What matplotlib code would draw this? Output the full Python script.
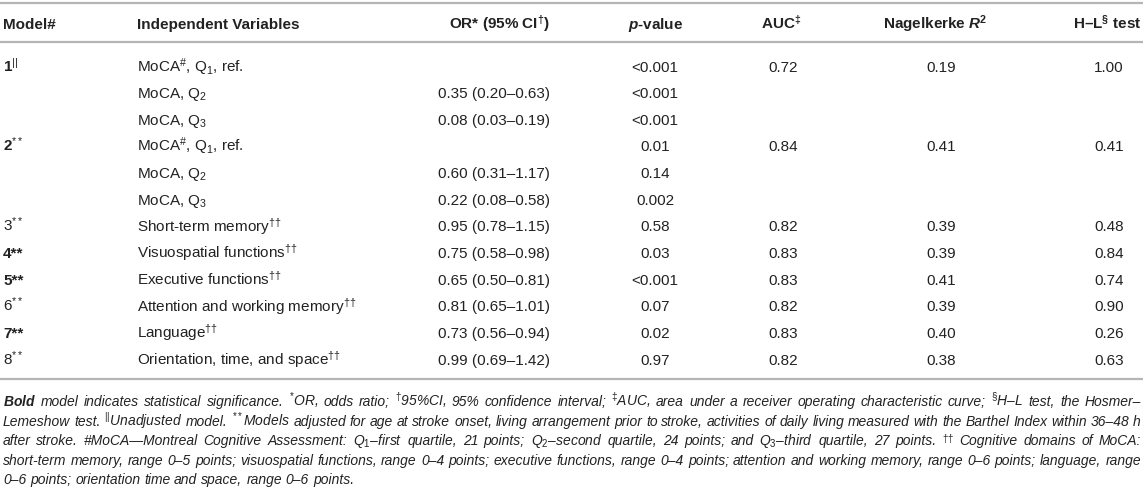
import matplotlib
matplotlib.use("Agg")
import matplotlib.pyplot as plt

plt.rcParams['font.family'] = ['Liberation Sans', 'DejaVu Sans']
plt.rcParams['mathtext.fontset'] = 'custom'
plt.rcParams['mathtext.rm'] = 'Liberation Sans'
plt.rcParams['mathtext.it'] = 'Liberation Sans:italic'
plt.rcParams['mathtext.bf'] = 'Liberation Sans:bold'
plt.rcParams['mathtext.bfit'] = 'Liberation Sans:italic:bold'
plt.rcParams['mathtext.sf'] = 'Liberation Sans'

# table content
headers = ["Model#", "Independent Variables", r"OR* (95% CI$^{\mathbf{†}}$)",
           r"$\mathbfit{p}$-value", r"AUC$^{\mathbf{‡}}$",
           r"Nagelkerke $\mathbfit{R}^{\mathbf{2}}$", r"H–L$^{\mathbf{§}}$ test"]
models = [r"$\mathbf{1}^{||}$", "", "", r"$\mathbf{2}^{**}$", "", "",
          r"3$^{**}$", "4**", "5**", r"6$^{**}$", "7**", r"8$^{**}$"]
model_bold = [False, False, False, False, False, False,
              False, True, True, False, True, False]
variables = [r"MoCA$^{\#}$, Q$_{1}$, ref.", r"MoCA, Q$_{2}$", r"MoCA, Q$_{3}$",
             r"MoCA$^{\#}$, Q$_{1}$, ref.", r"MoCA, Q$_{2}$", r"MoCA, Q$_{3}$",
             r"Short-term memory$^{††}$", r"Visuospatial functions$^{††}$",
             r"Executive functions$^{††}$", r"Attention and working memory$^{††}$",
             r"Language$^{††}$", r"Orientation, time, and space$^{††}$"]
odds = ["", "0.35 (0.20–0.63)", "0.08 (0.03–0.19)",
        "", "0.60 (0.31–1.17)", "0.22 (0.08–0.58)",
        "0.95 (0.78–1.15)", "0.75 (0.58–0.98)", "0.65 (0.50–0.81)",
        "0.81 (0.65–1.01)", "0.73 (0.56–0.94)", "0.99 (0.69–1.42)"]
pvals = ["<0.001", "<0.001", "<0.001", "0.01", "0.14", "0.002",
         "0.58", "0.03", "<0.001", "0.07", "0.02", "0.97"]
auc = ["0.72", "", "", "0.84", "", "", "0.82", "0.83", "0.83", "0.82", "0.83", "0.82"]
r2 = ["0.19", "", "", "0.41", "", "", "0.39", "0.39", "0.41", "0.39", "0.40", "0.38"]
hl = ["1.00", "", "", "0.41", "", "", "0.48", "0.84", "0.74", "0.90", "0.26", "0.63"]

notes = [
    r"$\mathbfit{Bold}$ model indicates statistical significance. $^{*}$OR, odds ratio; $^{†}$95%CI, 95% confidence interval; $^{‡}$AUC, area under a receiver operating characteristic curve; $^{§}$H–L test, the Hosmer–",
    r"Lemeshow test. $^{||}$Unadjusted model. $^{**}$Models adjusted for age at stroke onset, living arrangement prior to stroke, activities of daily living measured with the Barthel Index within 36–48 h",
    r"after stroke. #MoCA—Montreal Cognitive Assessment: Q$_{1}$–first quartile, 21 points; Q$_{2}$–second quartile, 24 points; and Q$_{3}$–third quartile, 27 points. $^{††}$ Cognitive domains of MoCA:",
    r"short-term memory, range 0–5 points; visuospatial functions, range 0–4 points; executive functions, range 0–4 points; attention and working memory, range 0–6 points; language, range",
    r"0–6 points; orientation time and space, range 0–6 points.",
]

W, H = 1143, 492
fig = plt.figure(figsize=(W / 100, H / 100), dpi=100)
ax = fig.add_axes([0, 0, 1, 1])
ax.set_xlim(0, W)
ax.set_ylim(H, 0)
ax.axis('off')

ink = '#222222'
rule = '#b5b5b5'
fs = 11

# rules
for yy in (3, 42, 379):
    ax.axhline(yy, color=rule, lw=1.6)

# column anchors (x, alignment) for header and body
hdr_pos = [(3, 'left'), (137, 'left'), (550, 'right'), (656, 'center'),
           (781, 'center'), (935, 'center'), (1141, 'right')]
body_pos = [(3, 'left'), (137, 'left'), (550, 'right'), (655, 'center'),
            (783, 'center'), (941, 'center'), (1109, 'center')]

for (x, ha), h in zip(hdr_pos, headers):
    ax.text(x, 29, h, ha=ha, va='baseline', fontsize=fs, fontweight='bold', color=ink)

columns = [models, variables, odds, pvals, auc, r2, hl]
y0, dy = 71.5, 26.65
for i in range(len(variables)):
    y = y0 + i * dy
    for c, ((x, ha), col) in enumerate(zip(body_pos, columns)):
        if not col[i]:
            continue
        fw = 'bold' if (c == 0 and model_bold[i]) else 'normal'
        ax.text(x, y, col[i], ha=ha, va='baseline', fontsize=fs, fontweight=fw, color=ink)

# footnote, justified like the journal layout
renderer = fig.canvas.get_renderer()
left, right = 3, 1141


def word_widths(words, size):
    out = []
    for w in words:
        t = ax.text(0, 0, w, fontsize=size, style='italic')
        out.append(t.get_window_extent(renderer).width)
        t.remove()
    return out


# pick the size so the widest full line fits with normal word spacing
base = 9.3
natural = []
for line in notes[:-1]:
    ws = line.split(' ')
    natural.append(sum(word_widths(ws, base)) + (len(ws) - 1) * base * 100 / 72 * 0.278)
nfs = base * (right - left) / max(natural) * 0.995

for k, line in enumerate(notes):
    y = 406 + k * 19.6
    words = line.split(' ')
    objs = [ax.text(0, y, w, ha='left', va='baseline', fontsize=nfs,
                    style='italic', color=ink) for w in words]
    widths = [o.get_window_extent(renderer).width for o in objs]
    if k == len(notes) - 1:
        gap = nfs * 100 / 72 * 0.278
    else:
        gap = (right - left - sum(widths)) / (len(words) - 1)
    x = left
    for o, w in zip(objs, widths):
        o.set_x(x)
        x += w + gap

fig.savefig('out.png', dpi=100)
